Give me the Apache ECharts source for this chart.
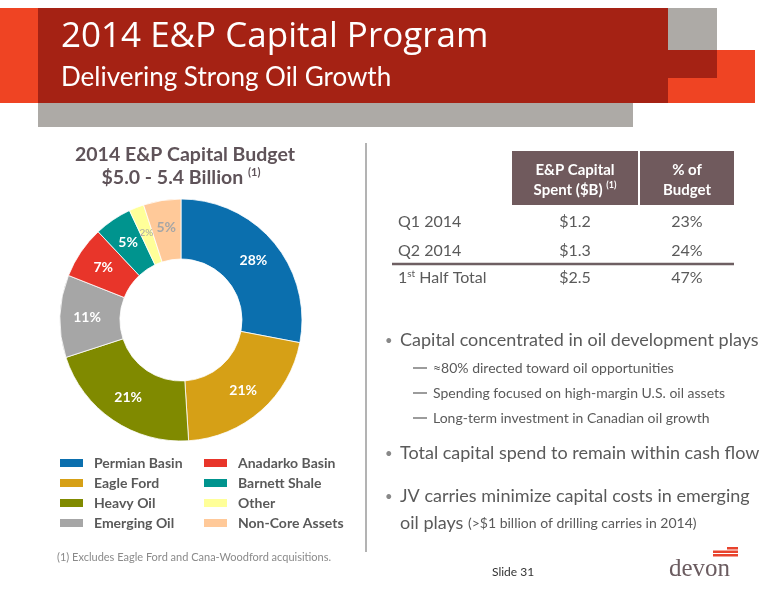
<!DOCTYPE html>
<html><head><meta charset="utf-8">
<script src="https://cdn.jsdelivr.net/npm/echarts@6/dist/echarts.min.js"></script>
<style>html,body{margin:0;padding:0;background:#fff}#c{width:776px;height:600px}</style>
</head><body><div id="c"></div>
<script>
// ---- data ----
const categories = ['Permian Basin','Eagle Ford','Heavy Oil','Emerging Oil','Anadarko Basin','Barnett Shale','Other','Non-Core Assets'];
const shares = [28, 21, 21, 11, 7, 5, 2, 5];
const sliceColors = ['#0B6FAE','#D6A016','#808A00','#A6A6A6','#E8352A','#00948E','#FFFF99','#FFC999'];
const quarterLabels = ['Q1 2014','Q2 2014','1st Half Total'];
const capitalSpent = [1.2, 1.3, 2.5];
const pctOfBudget = [23, 24, 47];
const mainBullets = ['Capital concentrated in oil development plays','Total capital spend to remain within cash flow','JV carries minimize capital costs in emerging'];
const subBullets = ['≈80% directed toward oil opportunities','Spending focused on high-margin U.S. oil assets','Long-term investment in Canadian oil growth'];

const F = 'Lato, "Open Sans", sans-serif';
const TXT = '#5A5A5A';
const MAUVE = '#705A5D';
const chart = echarts.init(document.getElementById('c'), null, {renderer:'canvas'});

const g = [];
function rect(x,y,w,h,fill){ g.push({type:'rect',shape:{x,y,width:w,height:h},style:{fill},silent:true}); }
function text(x,y,t,o){ g.push({type:'text',x,y,silent:true,style:Object.assign({text:t,fontFamily:F,fill:TXT,verticalAlign:'middle',align:'left'},o)}); }

// header band
rect(0,8,38,95,'#EF4423');
rect(38,103,595,24,'#ADAAA6');
rect(38,8,630,95,'#A52214');
rect(668,8,49,70,'#ADAAA6');
rect(668,50,87,53,'#EF4423');
rect(668,50,49,28,'#A52214');
text(61,37,'2014 E&P Capital Program',{fill:'#fff',fontSize:35,fontFamily:'"Open Sans", Lato, sans-serif'});
text(61,78,'Delivering Strong Oil Growth',{fill:'#fff',fontSize:26});

// donut title
text(185,155,'2014 E&P Capital Budget',{align:'center',fontSize:19.5,fontWeight:'bold',fill:'#5F5359'});
text(181,178,'{m|$5.0 - 5.4 Billion }{s|(1)}',{align:'center',fill:'#5F5359',rich:{
  m:{fontSize:19.5,fontWeight:'bold',fontFamily:F,fill:'#5F5359',lineHeight:22},
  s:{fontSize:11,fontWeight:'bold',fontFamily:F,fill:'#5F5359',verticalAlign:'top',lineHeight:14}}});

// divider
g.push({type:'line',shape:{x1:366,y1:143,x2:366,y2:552},style:{stroke:'#B3B3B3',lineWidth:2},silent:true});

// table header
rect(512,151,126,54,MAUVE);
rect(640,151,94,54,MAUVE);
const hs = {align:'center',fill:'#fff',fontSize:15,fontWeight:'bold'};
text(575,170,'E&P Capital',hs);
text(575,190,'{m|Spent ($B) }{s|(1)}',{align:'center',rich:{
  m:{fontSize:15,fontWeight:'bold',fontFamily:F,fill:'#fff',lineHeight:18},
  s:{fontSize:9,fontWeight:'bold',fontFamily:F,fill:'#fff',verticalAlign:'top',lineHeight:12}}});
text(687,170,'% of',hs);
text(687,190,'Budget',hs);
const rowY = [222, 251, 278];
quarterLabels.forEach((q,i)=>{
  const m = q.match(/^(\d+)(st|nd|rd|th)(.*)$/);
  if (m) {
    text(398,rowY[i],'{m|'+m[1]+'}{s|'+m[2]+'}{m|'+m[3]+'}',{rich:{
      m:{fontSize:16,fontFamily:F,fill:TXT,lineHeight:18},
      s:{fontSize:10,fontFamily:F,fill:TXT,verticalAlign:'top',lineHeight:12}}});
  } else text(398,rowY[i],q,{fontSize:16});
  text(575,rowY[i],'$'+capitalSpent[i].toFixed(1),{align:'center',fontSize:16});
  text(687,rowY[i],pctOfBudget[i]+'%',{align:'center',fontSize:16});
});
g.push({type:'line',shape:{x1:392,y1:264,x2:734,y2:264},style:{stroke:'#6E5F62',lineWidth:2.5},silent:true});

// bullets
const bulletY = [340, 453, 496];
mainBullets.forEach((b,i)=>{
  text(385,bulletY[i]+1,'•',{fontSize:13,fill:'#888'});
  text(400,bulletY[i],b,{fontSize:18});
});
text(400,523,'{a|oil plays }{b|(>$1 billion of drilling carries in 2014)}',{rich:{
  a:{fontSize:18,fontFamily:F,fill:TXT},b:{fontSize:14,fontFamily:F,fill:TXT}}});
const subY = [368, 393, 418];
subBullets.forEach((s,i)=>{
  g.push({type:'line',shape:{x1:413,y1:subY[i],x2:427,y2:subY[i]},style:{stroke:'#666',lineWidth:1.3},silent:true});
  text(433,subY[i],s,{fontSize:14});
});

// footnote, slide number, logo
text(57,557,'(1) Excludes Eagle Ford and Cana-Woodford acquisitions.',{fontSize:11,fill:'#8A8A8A'});
text(492,572,'Slide 31',{fontSize:12,fill:'#333'});
rect(727,547,11,2.5,'#E8432D');
rect(713,550.5,25,2.5,'#E8432D');
rect(713,554,25,2.5,'#E8432D');
text(669,569,'devon',{fontSize:25,fontFamily:'"Liberation Serif","DejaVu Serif",serif',fill:'#6B5C60'});

const pieData = categories.map((n,i)=>{
  const d = {name:n, value:shares[i], itemStyle:{color:sliceColors[i]}};
  if (i===6) d.label = {color:'#A6A6A6',fontSize:10,fontWeight:'normal'};
  if (i===7) d.label = {color:'#A6A6A6'};
  return d;
});

const legendBase = {orient:'vertical',top:456,itemWidth:25,itemHeight:10,itemGap:6,icon:'rect',padding:0,
  selectedMode:false,textStyle:{fontFamily:F,fontSize:14,fontWeight:'bold',color:'#595959',lineHeight:14,padding:[0,0,0,5]}};

chart.setOption({
  animation:false,
  legend:[
    Object.assign({left:58,data:categories.slice(0,4)},legendBase),
    Object.assign({left:202,data:categories.slice(4)},legendBase)
  ],
  series:[{
    type:'pie', center:[181,320], radius:[61,121], startAngle:90, clockwise:true,
    avoidLabelOverlap:false,
    itemStyle:{borderColor:'#ffffff',borderWidth:0.8},
    label:{show:true,position:'inside',formatter:'{c}%',color:'#fff',fontFamily:F,fontSize:14,fontWeight:'bold'},
    labelLine:{show:false},
    emphasis:{disabled:true},
    data:pieData
  }],
  graphic:{elements:g}
});
</script></body></html>
